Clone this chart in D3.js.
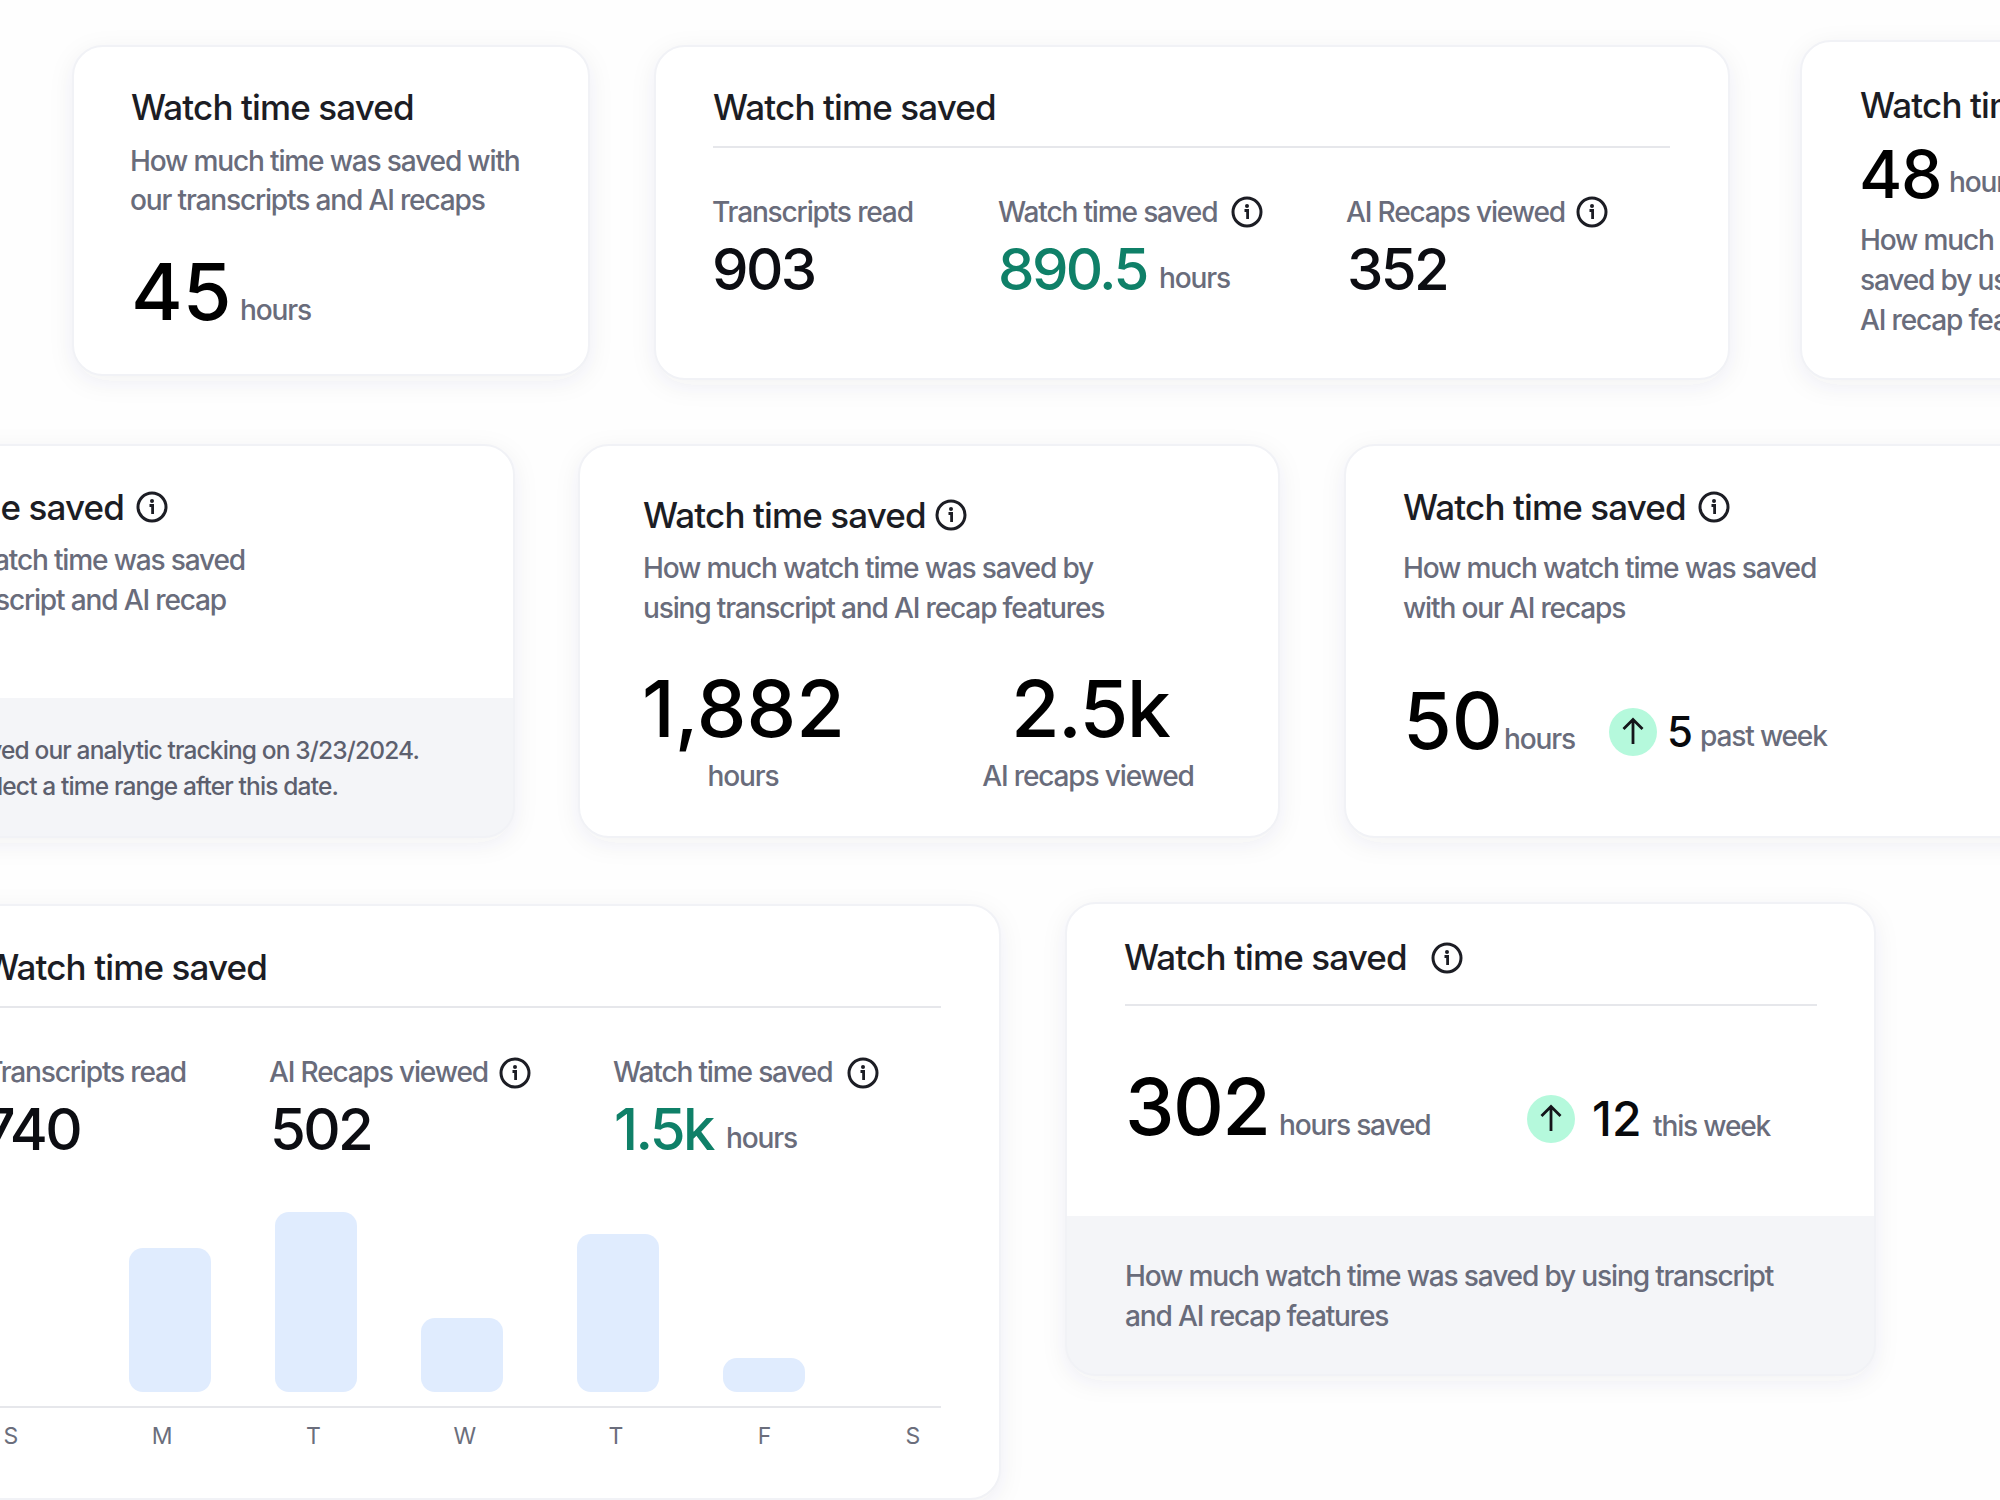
<!DOCTYPE html>
<html>
<head>
<meta charset="utf-8">
<script src="https://cdn.jsdelivr.net/npm/d3@7"></script>
<style>
  html, body { margin: 0; padding: 0; background: #fefefe; overflow: hidden; }
  svg { display: block; font-family: Inter, sans-serif; }
  .title { font-size: 35px; font-weight: 500; fill: #1c1d24; letter-spacing: -0.025em; }
  .sub { font-size: 28.1px; font-weight: 450; fill: #696c7b; letter-spacing: -0.042em; }
  .note { font-size: 24.5px; font-weight: 450; fill: #5d606e; letter-spacing: -0.035em; }
  .big { font-size: 79px; font-weight: 550; fill: #000; letter-spacing: -0.02em; }
  .mid { font-size: 58px; font-weight: 500; fill: #0c0d12; letter-spacing: -0.045em; }
  .green { fill: #0f8068; }
  .small { font-size: 42px; font-weight: 500; fill: #08090c; }
  .day { font-size: 23px; fill: #6b6e7c; }
</style>
</head>
<body>
<div id="chart"></div>
<script>
// values
const days = ["S", "M", "T", "W", "T", "F", "S"]
const dayValues = [0, 144, 180, 74, 158, 34, 0]
const cardTitle = "Watch time saved"
const statLabels = ["Transcripts read", "Watch time saved", "AI Recaps viewed"]
const topStats = ["903", "890.5", "352"]
const bottomStats = ["740", "502", "1.5k"]
const singleStats = ["45", "48", "50", "302"]
const pairStats = ["1,882", "2.5k"]
const changes = ["5", "12"]

const svg = d3.select("#chart").append("svg")
  .attr("width", 2000).attr("height", 1500)

const defs = svg.append("defs")
const shadow = defs.append("filter").attr("id", "shadow")
  .attr("x", "-10%").attr("y", "-10%").attr("width", "120%").attr("height", "125%")
shadow.append("feDropShadow")
  .attr("dx", 0).attr("dy", 6).attr("stdDeviation", 12)
  .attr("flood-color", "#3c4668").attr("flood-opacity", 0.07)

let cardCount = 0
function card(x, y, w, h, footerY) {
  x -= 1; w += 2; h += 1
  const id = "clip" + (cardCount++)
  defs.append("clipPath").attr("id", id).append("rect")
    .attr("x", x).attr("y", y).attr("width", w).attr("height", h).attr("rx", 30)
  svg.append("rect").attr("x", x).attr("y", y).attr("width", w).attr("height", h).attr("rx", 30)
    .attr("fill", "#fff").attr("filter", "url(#shadow)")
  if (footerY) {
    svg.append("rect").attr("x", x).attr("y", footerY).attr("width", w).attr("height", y + h - footerY)
      .attr("fill", "#f4f5f8").attr("clip-path", `url(#${id})`)
  }
  svg.append("rect").attr("x", x).attr("y", y).attr("width", w).attr("height", h).attr("rx", 30)
    .attr("fill", "none").attr("stroke", "#f1f2f6").attr("stroke-width", 2)
}

function label(x, y, str, cls, anchor) {
  return svg.append("text").attr("x", x).attr("y", y).attr("class", cls)
    .attr("text-anchor", anchor || "start").text(str)
}

function info(cx, cy) {
  const g = svg.append("g").attr("transform", `translate(${cx},${cy})`)
  g.append("circle").attr("r", 14).attr("fill", "none").attr("stroke", "#1c1d24").attr("stroke-width", 3)
  g.append("circle").attr("cy", -6).attr("r", 2).attr("fill", "#1c1d24")
  g.append("path").attr("d", "M-2.5,-1.5H0.6V7").attr("fill", "none").attr("stroke", "#1c1d24").attr("stroke-width", 2.8)
}

function upBadge(cx, cy) {
  const g = svg.append("g").attr("transform", `translate(${cx},${cy})`)
  g.append("circle").attr("r", 24).attr("fill", "#b5f9dc")
  g.append("path").attr("d", "M0,12V-12M-9.5,-3L0,-12.5L9.5,-3").attr("fill", "none")
    .attr("stroke", "#14151a").attr("stroke-width", 2.8)
}

function rule(x1, x2, y) {
  svg.append("line").attr("x1", x1).attr("x2", x2).attr("y1", y).attr("y2", y)
    .attr("stroke", "#e6e7eb").attr("stroke-width", 2)
}

// top row
card(74, 46, 514, 328)
label(131, 120, cardTitle, "title")
label(130, 171, "How much time was saved with", "sub")
label(130, 210, "our transcripts and AI recaps", "sub")
label(131, 320, singleStats[0], "big").style("letter-spacing", "0")
label(240, 320, "hours", "sub")

card(656, 46, 1072, 332)
label(713, 120, cardTitle, "title")
rule(713, 1670, 147)
label(712, 222, statLabels[0], "sub")
label(712, 290, topStats[0], "mid")
label(998, 222, statLabels[1], "sub")
info(1247, 212)
label(998, 290, topStats[1], "mid green")
label(1159, 288, "hours", "sub")
label(1346, 222, statLabels[2], "sub")
info(1592, 212)
label(1347, 290, topStats[2], "mid")

card(1802, 41, 260, 337)
label(1860, 118, cardTitle, "title")
label(1859, 198, singleStats[1], "big").style("font-size", "66px")
label(1949, 192, "hours", "sub")
label(1860, 250, "How much watch time was", "sub")
label(1860, 290, "saved by using transcript and", "sub")
label(1860, 330, "AI recap features", "sub")

// middle row
card(-60, 445, 573, 391, 698)
label(124, 520, cardTitle, "title", "end")
info(152, 507)
label(245, 570, "How much watch time was saved", "sub", "end")
label(226, 610, "using transcript and AI recap", "sub", "end")
label(419, 759, "We improved our analytic tracking on 3/23/2024.", "note", "end")
label(338, 795, "Please select a time range after this date.", "note", "end")

card(580, 445, 698, 391)
label(643, 528, cardTitle, "title")
info(951, 515)
label(643, 578, "How much watch time was saved by", "sub")
label(643, 618, "using transcript and AI recap features", "sub")
label(642, 737, pairStats[0], "big").style("letter-spacing", "0")
label(1011, 737, pairStats[1], "big")
label(743, 786, "hours", "sub", "middle")
label(1088, 786, "AI recaps viewed", "sub", "middle")

card(1346, 445, 720, 391)
label(1403, 520, cardTitle, "title")
info(1714, 507)
label(1403, 578, "How much watch time was saved", "sub")
label(1403, 618, "with our AI recaps", "sub")
label(1403, 749, singleStats[2], "big").style("letter-spacing", "0")
label(1504, 749, "hours", "sub")
upBadge(1633, 732)
label(1667, 747, changes[0], "small")
label(1700, 746, "past week", "sub")

// bottom left card with bars
card(-60, 905, 1059, 593)
label(267, 980, cardTitle, "title", "end")
rule(-60, 941, 1007)
label(186, 1082, statLabels[0], "sub", "end")
label(80, 1150, bottomStats[0], "mid", "end")
label(269, 1082, statLabels[2], "sub")
info(515, 1073)
label(270, 1150, bottomStats[1], "mid")
label(613, 1082, statLabels[1], "sub")
info(863, 1073)
label(614, 1150, bottomStats[2], "mid green")
label(726, 1148, "hours", "sub")

const barBottom = 1392
const barWidth = 82
const y = d3.scaleLinear().domain([0, 180]).range([barBottom, barBottom - 180])
const barX = d3.scaleLinear().domain([1, 3, 4, 5]).range([129, 421, 577, 723])
const dayX = d3.scaleLinear().domain([0, 4, 6]).range([11, 616, 913])

svg.append("g").selectAll("rect")
  .data(dayValues.map((v, i) => ({ v, i })).filter(d => d.v > 0))
  .join("rect")
  .attr("x", d => barX(d.i))
  .attr("y", d => y(d.v))
  .attr("width", barWidth)
  .attr("height", d => y(0) - y(d.v))
  .attr("rx", 14)
  .attr("fill", "#e0ecfe")

rule(-60, 941, 1407)
svg.append("g").selectAll("text")
  .data(days)
  .join("text")
  .attr("class", "day")
  .attr("x", (d, i) => dayX(i))
  .attr("y", 1444)
  .attr("text-anchor", "middle")
  .text(d => d)

// bottom right card
card(1067, 903, 807, 471, 1216)
label(1124, 970, cardTitle, "title")
info(1447, 958)
rule(1125, 1817, 1005)
label(1125, 1135, singleStats[3], "big")
label(1279, 1135, "hours saved", "sub")
upBadge(1551, 1119)
label(1592, 1136, changes[1], "small").style("font-size", "48px")
label(1653, 1136, "this week", "sub")
label(1125, 1286, "How much watch time was saved by using transcript", "sub")
label(1125, 1326, "and AI recap features", "sub")
</script>
</body>
</html>
